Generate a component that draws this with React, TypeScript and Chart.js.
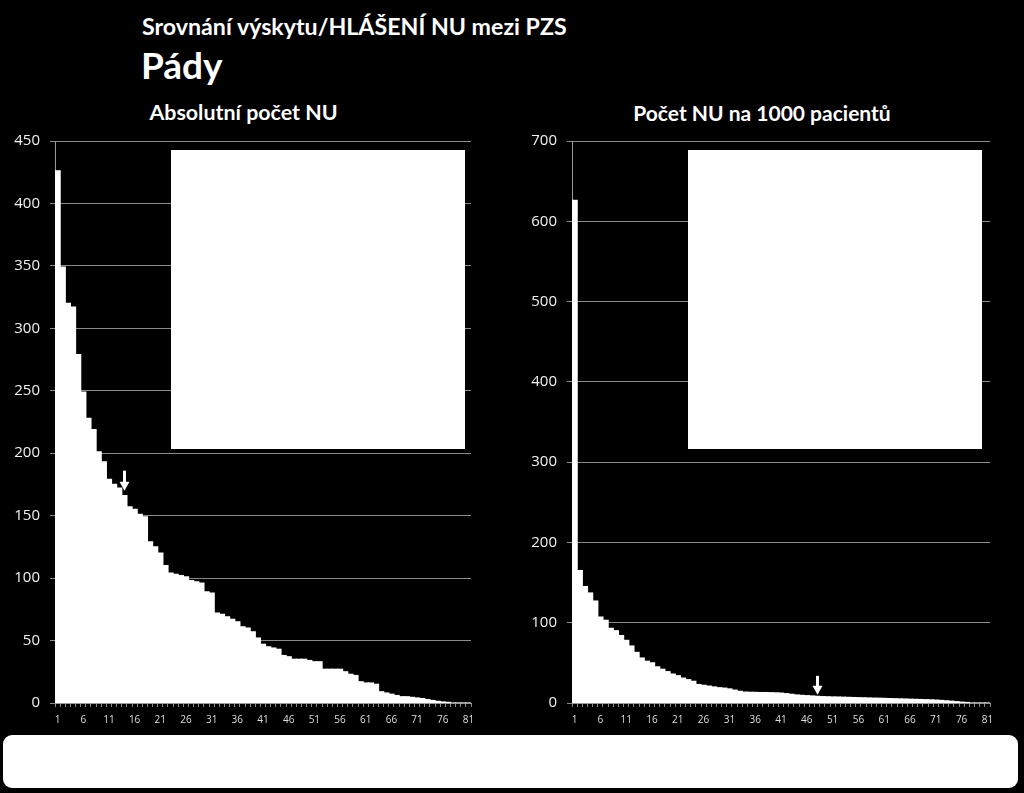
import React, { useEffect, useRef } from "react";
import { Chart, registerables } from "chart.js";

Chart.register(...registerables);

const categories: string[] = [
  "1","2","3","4","5","6","7","8","9","10","11","12","13","14","15","16","17","18","19","20",
  "21","22","23","24","25","26","27","28","29","30","31","32","33","34","35","36","37","38","39","40",
  "41","42","43","44","45","46","47","48","49","50","51","52","53","54","55","56","57","58","59","60",
  "61","62","63","64","65","66","67","68","69","70","71","72","73","74","75","76","77","78","79","80","81",
];

const xTickLabels: string[] = ["1","6","11","16","21","26","31","36","41","46","51","56","61","66","71","76","81"];

// Absolutní počet NU
const absoluteCounts: number[] = [
  426, 349, 320, 317, 279, 249, 228, 219, 201, 193,
  179, 175, 172, 166, 157, 155, 151, 149, 129, 125,
  120, 110, 104, 103, 102, 101, 98, 97, 96, 89,
  88, 72, 71, 69, 67, 65, 61, 60, 57, 52,
  47, 45, 44, 43, 38, 37, 35, 35, 35, 34,
  33, 33, 27, 27, 27, 27, 25, 23, 22, 17,
  16, 16, 15, 9, 8, 7, 6, 5, 5, 4.5,
  4, 3.5, 2.7, 2, 1.3, 0.8, 0.5, 0, 0, 0, 0,
];

// Počet NU na 1000 pacientů
const per1000Counts: number[] = [
  626, 165, 145, 137, 127, 107, 103, 93, 90, 84,
  78, 71, 63, 56, 52, 50, 45, 42, 39, 36,
  34, 31, 29, 27, 23, 22, 21, 20, 19, 18.5,
  17.5, 16, 14.5, 13.5, 13.3, 13.2, 13, 13, 12.8, 12.6,
  12.3, 11.6, 10.8, 10, 9.5, 9.1, 8.7, 8.3, 7.9, 7.7,
  7.5, 7.4, 7.2, 7, 6.8, 6.6, 6.4, 6.2, 6, 5.9,
  5.7, 5.5, 5.3, 5.1, 4.9, 4.7, 4.5, 4.3, 4.1, 3.9,
  3.6, 3.2, 2.7, 2.2, 1.6, 1, 0.4, 0, 0, 0, 0,
];

const leftYMax = 450;
const leftYStep = 50;
const rightYMax = 700;
const rightYStep = 100;

const leftHighlightIndex = 13; // bar "14"
const rightHighlightIndex = 47; // bar "48"

const GRID = "#8a8a8a";
const AXIS = "#9a9a9a";
const Y_FONT = 15;
const Y_PAD = 10;
const CANVAS_TOP = 122;
const CANVAS_H = 618;

type BarProps = {
  values: number[];
  yMax: number;
  yStep: number;
  yAxisWidth: number;
  padRight: number;
  left: number;
  arrowIndex: number;
  arrowGap: number;
  arrowLen: number;
};

function BarChart(p: BarProps) {
  const ref = useRef<HTMLCanvasElement>(null);
  useEffect(() => {
    const arrowPlugin = {
      id: "arrowMark",
      afterDatasetsDraw(chart: any) {
        const meta = chart.getDatasetMeta(0);
        const bar = meta.data[p.arrowIndex];
        if (!bar) return;
        const ctx = chart.ctx;
        const x = Math.round(bar.x) + 0.5;
        const tip = bar.y - p.arrowGap;
        const top = tip - p.arrowLen;
        const headH = 9;
        ctx.save();
        ctx.fillStyle = "#ffffff";
        ctx.fillRect(x - 1.5, top, 3, p.arrowLen - headH + 1);
        ctx.beginPath();
        ctx.moveTo(x - 5, tip - headH);
        ctx.lineTo(x + 5, tip - headH);
        ctx.lineTo(x, tip);
        ctx.closePath();
        ctx.fill();
        ctx.restore();
      },
    };
    // y-scale top overflow = half label line height + tick padding
    const yOverflow = (Y_FONT * 1.2) / 2 + Y_PAD;
    const chart = new Chart(ref.current as HTMLCanvasElement, {
      type: "bar",
      data: {
        labels: categories,
        datasets: [
          {
            data: p.values,
            backgroundColor: "#ffffff",
            borderWidth: 0,
            inflateAmount: 0.6,
            barPercentage: 1,
            categoryPercentage: 1,
          },
        ],
      },
      options: {
        animation: false,
        responsive: false,
        maintainAspectRatio: false,
        layout: { padding: { top: yOverflow, right: p.padRight, left: 0, bottom: 0 } },
        plugins: { legend: { display: false }, tooltip: { enabled: false }, title: { display: false } },
        scales: {
          x: {
            grid: {
              display: true,
              drawOnChartArea: false,
              drawTicks: true,
              tickLength: 4,
              color: GRID,
              offset: true,
            },
            border: { color: AXIS },
            ticks: {
              autoSkip: false,
              maxRotation: 0,
              minRotation: 0,
              padding: 7,
              color: "#dedede",
              font: { family: "Open Sans", size: 10 },
              callback: (_v: any, i: number) =>
                xTickLabels.includes(categories[i]) ? categories[i] : "",
            },
            afterFit: (s: any) => {
              s.height = CANVAS_TOP + CANVAS_H - 703;
            },
          },
          y: {
            min: 0,
            max: p.yMax,
            ticks: {
              stepSize: p.yStep,
              padding: Y_PAD,
              color: "#f2f2f2",
              font: { family: "Open Sans", size: Y_FONT },
            },
            grid: { color: GRID, tickLength: 5 },
            border: { color: AXIS },
            afterFit: (s: any) => {
              s.width = p.yAxisWidth;
            },
          },
        },
      },
      plugins: [arrowPlugin],
    } as any);
    return () => chart.destroy();
  }, []);
  return (
    <canvas
      ref={ref}
      width={510}
      height={CANVAS_H}
      style={{ position: "absolute", left: p.left, top: CANVAS_TOP + (141 - CANVAS_TOP - ((Y_FONT * 1.2) / 2 + Y_PAD)), width: 510, height: CANVAS_H }}
    />
  );
}

const textBase: React.CSSProperties = {
  position: "absolute",
  color: "#ffffff",
  fontFamily: "Lato, 'Open Sans', sans-serif",
  fontWeight: 700,
  lineHeight: 1,
  whiteSpace: "nowrap",
};

export default function App() {
  return (
    <div
      style={{
        position: "fixed",
        left: 0,
        top: 0,
        width: 1024,
        height: 793,
        background: "#000000",
        overflow: "hidden",
      }}
    >
      <div style={{ ...textBase, left: 142, top: 15, fontSize: 23.2 }}>
        Srovnání výskytu/HLÁŠENÍ NU mezi PZS
      </div>
      <div style={{ ...textBase, left: 141, top: 46, fontSize: 37 }}>Pády</div>
      <div style={{ ...textBase, left: 0, width: 487, textAlign: "center", top: 102, fontSize: 21.4 }}>
        Absolutní počet NU
      </div>
      <div style={{ ...textBase, left: 512, width: 500, textAlign: "center", top: 102, fontSize: 21 }}>
        Počet NU na 1000 pacientů
      </div>

      <BarChart
        values={absoluteCounts}
        yMax={leftYMax}
        yStep={leftYStep}
        yAxisWidth={55}
        padRight={39}
        left={0}
        arrowIndex={leftHighlightIndex}
        arrowGap={5}
        arrowLen={20}
      />
      <BarChart
        values={per1000Counts}
        yMax={rightYMax}
        yStep={rightYStep}
        yAxisWidth={60}
        padRight={32}
        left={512}
        arrowIndex={rightHighlightIndex}
        arrowGap={1.5}
        arrowLen={19}
      />

      <div style={{ position: "absolute", left: 171, top: 150, width: 294, height: 299, background: "#ffffff" }} />
      <div style={{ position: "absolute", left: 688, top: 150, width: 294, height: 299, background: "#ffffff" }} />
      <div
        style={{
          position: "absolute",
          left: 3,
          top: 735,
          width: 1015,
          height: 53,
          background: "#ffffff",
          borderRadius: 9,
        }}
      />
    </div>
  );
}
